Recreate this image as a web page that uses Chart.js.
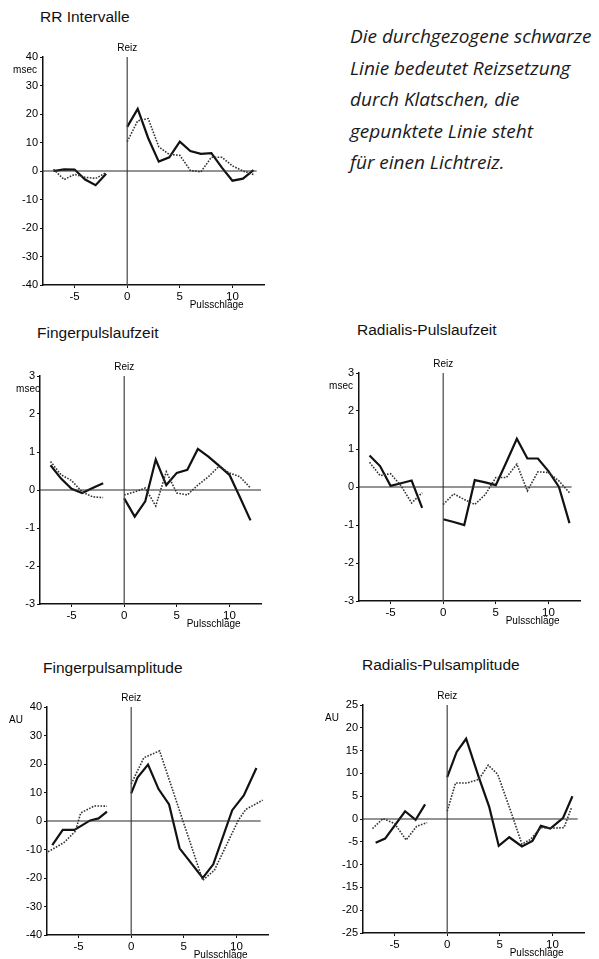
<!DOCTYPE html>
<html>
<head>
<meta charset="utf-8">
<script src="https://cdn.jsdelivr.net/npm/chart.js@4.4.1/dist/chart.umd.min.js"></script>
<style>
  html, body { margin: 0; padding: 0; background: #fff; overflow: hidden; }
  #page { position: relative; width: 599px; height: 959px; }
  canvas { position: absolute; }
  .title { position: absolute; font: 15.5px "Liberation Sans", Arial, sans-serif; color: #111; white-space: nowrap; }
  #note { position: absolute; left: 350px; top: 21px; font: italic 19px "Open Sans", sans-serif; line-height: 31.5px; color: #1a1a1a; white-space: nowrap; }
</style>
</head>
<body>
<div id="page">
  <div class="title" style="left:40px; top:8px">RR Intervalle</div>
  <div class="title" style="left:37px; top:324px">Fingerpulslaufzeit</div>
  <div class="title" style="left:357px; top:321px">Radialis-Pulslaufzeit</div>
  <div class="title" style="left:43px; top:659px">Fingerpulsamplitude</div>
  <div class="title" style="left:362px; top:656px">Radialis-Pulsamplitude</div>
  <div id="note">Die durchgezogene schwarze<br>Linie bedeutet Reizsetzung<br>durch Klatschen, die<br>gepunktete Linie steht<br>für einen Lichtreiz.</div>
  <canvas id="rr"></canvas>
  <canvas id="fpl"></canvas>
  <canvas id="rpl"></canvas>
  <canvas id="fpa"></canvas>
  <canvas id="rpa"></canvas>
</div>
<script>
// Pulsschläge vor und nach dem Reiz
const beatsPre = [-7, -6, -5, -4, -3, -2];
const beatsPost = [0, 1, 2, 3, 4, 5, 6, 7, 8, 9, 10, 11, 12];
const xTicks = [-5, 0, 5, 10];

// RR Intervalle (msec)
const rrClapPre = [0, 0.6, 0.5, -3, -5, -1];
const rrLightPre = [0.6, -3, -1.2, -2.2, -2.6, -0.6];
const rrClapPost = [15.5, 21.8, 11.5, 3.3, 4.8, 10.3, 7, 6, 6.3, 1.2, -3.4, -2.7, 0.3];
const rrLightPost = [10.3, 17.6, 18.4, 8.5, 5.8, 5.5, 0.2, -0.3, 4.8, 4.8, 1.8, 0, -1.2];

// Fingerpulslaufzeit (msec)
const fplClapPre = [0.65, 0.3, 0.03, -0.08, 0.05, 0.18];
const fplLightPre = [0.75, 0.4, 0.25, -0.05, -0.18, -0.2];
const fplClapPost = [-0.22, -0.7, -0.3, 0.8, 0.13, 0.45, 0.53, 1.08, 0.88, 0.64, 0.4, -0.19, -0.8];
const fplLightPost = [-0.13, -0.05, 0.05, -0.42, 0.48, -0.08, -0.13, 0.13, 0.35, 0.62, 0.45, 0.35, 0.05];

// Radialis-Pulslaufzeit (msec)
const rplClapPre = [0.83, 0.55, 0.03, 0.1, 0.17, -0.55];
const rplLightPre = [0.65, 0.3, 0.35, 0.03, -0.42, -0.15];
const rplClapPost = [-0.85, -0.92, -1.0, 0.18, 0.12, 0.05, 0.65, 1.27, 0.75, 0.75, 0.42, 0.0, -0.95];
const rplLightPost = [-0.46, -0.18, -0.33, -0.46, -0.2, 0.25, 0.25, 0.6, -0.1, 0.4, 0.38, 0.16, -0.15];

// Fingerpulsamplitude (AU) - Punkte liegen hier nicht genau auf ganzen Schlägen
const fpaClapPreX = [-7.5, -6.5, -5.4, -3.9, -3.1, -2.3];
const fpaClapPreY = [-8.5, -3.1, -3.1, 0.2, 0.9, 3.3];
const fpaLightPreX = [-7.9, -6.4, -5.3, -4.8, -3.5, -2.3];
const fpaLightPreY = [-10.8, -7.6, -3.6, 2.8, 5.3, 5.2];
const fpaClapPostX = [0, 0.6, 1.6, 2.6, 3.6, 4.6, 6.8, 7.8, 9.6, 10.7, 11.9];
const fpaClapPostY = [9.7, 15.2, 19.8, 11.2, 5.8, -9.6, -20, -15.2, 3.8, 9, 18.6];
const fpaLightPostX = [0, 1.2, 2.7, 6.8, 7.9, 10.2, 10.9, 12.5];
const fpaLightPostY = [13, 22.2, 24.6, -20.8, -17.3, 0.4, 4.1, 7.3];

// Radialis-Pulsamplitude (AU)
const rpaClapPreX = [-6.8, -5.9, -4, -3, -2.1];
const rpaClapPreY = [-5.2, -4.3, 1.7, -0.2, 3.2];
const rpaLightPreX = [-7.1, -6.1, -5, -3.9, -2.9, -1.9];
const rpaLightPreY = [-2.1, 0.1, -1, -4.6, -1.6, -0.8];
const rpaClapPostX = [0, 0.9, 1.8, 3, 4, 4.9, 5.9, 7.1, 8.1, 8.9, 9.8, 11, 11.9];
const rpaClapPostY = [9.2, 14.7, 17.6, 9.2, 2.6, -5.9, -4, -6, -4.8, -1.5, -2.1, 0.2, 5];
const rpaLightPostX = [0, 0.8, 1.9, 3, 3.9, 4.8, 6.1, 7.1, 7.9, 8.9, 10, 11.1, 11.8];
const rpaLightPostY = [1.7, 7.9, 7.9, 8.7, 11.8, 9.8, 1.3, -5.5, -4.5, -1.9, -2, -1.9, 2.4];

const FONT = "'Liberation Sans', Arial, sans-serif";
Chart.defaults.font.family = FONT;
Chart.defaults.font.size = 11;
Chart.defaults.color = "#000";

const zip = (xs, ys) => xs.map((x, i) => ({ x, y: ys[i] }));

// Beschriftungen "Reiz", Einheit und "Pulsschläge"
const labelsPlugin = {
  id: "panelLabels",
  afterDraw(chart, args, opts) {
    const { ctx, chartArea, scales } = chart;
    ctx.save();
    ctx.fillStyle = "#000";
    ctx.textBaseline = "middle";
    ctx.font = "10px " + FONT;
    ctx.textAlign = "center";
    ctx.fillText("Reiz", scales.x.getPixelForValue(0), chartArea.top - 9);
    ctx.fillText("Pulsschläge", scales.x.getPixelForValue(8.5), chartArea.bottom + 20);
    ctx.textAlign = "right";
    ctx.fillText(opts.unit, chartArea.left - opts.unitGap, chartArea.top + 13);
    ctx.restore();
  }
};

const CA_W = 221, CA_H = 228, PAD_L = 40, PAD_T = 20, PAD_R = 12, PAD_B = 30;

const makePanel = (id, left, top, yMin, yMax, yStep, unit, unitGap, zeroEnd, clapPre, clapPost, lightPre, lightPost) => {
  const canvas = document.getElementById(id);
  const w = PAD_L + CA_W + PAD_R;
  const h = PAD_T + CA_H + PAD_B;
  canvas.width = w;
  canvas.height = h;
  canvas.style.width = w + "px";
  canvas.style.height = h + "px";
  canvas.style.left = (left - PAD_L) + "px";
  canvas.style.top = (top - PAD_T) + "px";

  const solid = { borderColor: "#111", borderWidth: 2.2, pointRadius: 0, tension: 0, fill: false };
  const dotted = { borderColor: "#333", borderWidth: 1.6, borderDash: [1.6, 1.4], pointRadius: 0, tension: 0, fill: false };
  const thin = { borderColor: "#2a2a2a", borderWidth: 1.2, pointRadius: 0, fill: false };

  return new Chart(canvas, {
    type: "line",
    data: {
      datasets: [
        { ...thin, data: [{ x: -8, y: 0 }, { x: zeroEnd, y: 0 }] },
        { ...thin, borderColor: "#444", data: [{ x: 0, y: yMin }, { x: 0, y: yMax }] },
        { ...dotted, data: lightPre },
        { ...dotted, data: lightPost },
        { ...solid, data: clapPre },
        { ...solid, data: clapPost }
      ]
    },
    options: {
      responsive: false,
      animation: false,
      events: [],
      devicePixelRatio: 1,
      layout: { padding: { left: 0, top: PAD_T, right: PAD_R, bottom: 0 } },
      plugins: {
        legend: { display: false },
        tooltip: { enabled: false },
        panelLabels: { unit, unitGap }
      },
      scales: {
        x: {
          type: "linear",
          min: -8,
          max: 13,
          afterBuildTicks: s => { s.ticks = xTicks.map(v => ({ value: v })); },
          afterFit: s => { s.height = PAD_B; },
          grid: { drawOnChartArea: false, drawTicks: true, tickLength: 3, color: "#111" },
          border: { color: "#111", width: 1.5 },
          ticks: { padding: 2, maxRotation: 0, autoSkip: false, font: { size: 11.5 } }
        },
        y: {
          min: yMin,
          max: yMax,
          ticks: { stepSize: yStep, padding: 2, font: { size: 11 } },
          afterFit: s => { s.width = PAD_L; },
          grid: { drawOnChartArea: false, drawTicks: true, tickLength: 3, color: "#111" },
          border: { color: "#111", width: 1.5 }
        }
      }
    },
    plugins: [labelsPlugin]
  });
};

makePanel("rr", 43, 57, -40, 40, 10, "msec", 6, 12.3,
  zip(beatsPre, rrClapPre), zip(beatsPost, rrClapPost),
  zip(beatsPre, rrLightPre), zip(beatsPost, rrLightPost));

makePanel("fpl", 40, 376, -3, 3, 1, "msec", 0, 13,
  zip(beatsPre, fplClapPre), zip(beatsPost, fplClapPost),
  zip(beatsPre, fplLightPre), zip(beatsPost, fplLightPost));

makePanel("rpl", 359, 373, -3, 3, 1, "msec", 6, 12.2,
  zip(beatsPre, rplClapPre), zip(beatsPost, rplClapPost),
  zip(beatsPre, rplLightPre), zip(beatsPost, rplLightPost));

makePanel("fpa", 47, 707, -40, 40, 10, "AU", 24, 12.3,
  zip(fpaClapPreX, fpaClapPreY), zip(fpaClapPostX, fpaClapPostY),
  zip(fpaLightPreX, fpaLightPreY), zip(fpaLightPostX, fpaLightPostY));

makePanel("rpa", 363, 705, -25, 25, 5, "AU", 24, 12.4,
  zip(rpaClapPreX, rpaClapPreY), zip(rpaClapPostX, rpaClapPostY),
  zip(rpaLightPreX, rpaLightPreY), zip(rpaLightPostX, rpaLightPostY));
</script>
</body>
</html>
